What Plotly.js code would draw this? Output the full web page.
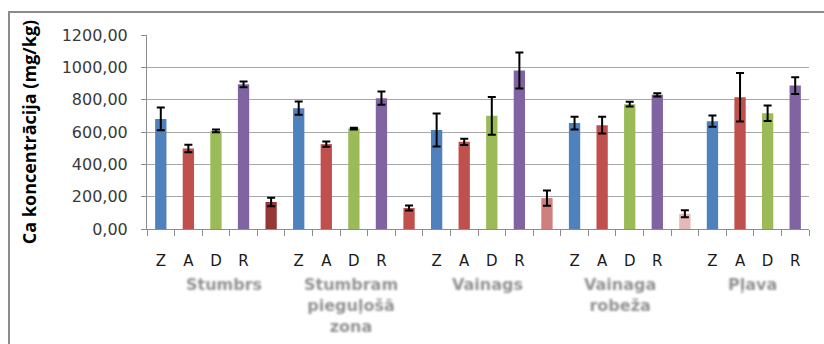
<!DOCTYPE html>
<html>
<head>
<meta charset="utf-8">
<script src="https://cdn.plot.ly/plotly-3.0.1.min.js"></script>
<style>
  html, body { margin: 0; padding: 0; background: #ffffff; overflow: hidden; }
  #frame { position: absolute; left: 8px; top: 11px; width: 900px; height: 400px;
           border: 2px solid #8c8c8c; box-sizing: border-box; }
  #chart { position: absolute; left: 0; top: 0; width: 824px; height: 344px; }
</style>
</head>
<body>
<svg width="0" height="0" style="position:absolute">
  <defs>
    <filter id="soft" x="-10%" y="-30%" width="120%" height="160%">
      <feGaussianBlur stdDeviation="0.8"/>
    </filter>
  </defs>
</svg>
<div id="frame"></div>
<div id="chart"></div>
<script>
// Sampling positions within each site and the sites themselves
const parts = ['Z', 'A', 'D', 'R'];
const sites = ['Stumbrs', 'Stumbram<br>pieguļošā<br>zona', 'Vainags', 'Vainaga<br>robeža', 'Pļava'];

// Ca concentration (mg/kg) per site, order Z, A, D, R
const stumbrs       = [681, 498, 607, 895];
const stumbram      = [747, 525, 621, 809];
const vainags       = [613, 539, 700, 980];
const vainagaRobeza = [655, 642, 772, 830];
const plava         = [667, 815, 716, 887];

// Standard deviations, same order
const stumbrsErr       = [70, 23, 8, 18];
const stumbramErr      = [41, 16, 5, 41];
const vainagsErr       = [102, 20, 117, 111];
const vainagaRobezaErr = [40, 52, 15, 10];
const plavaErr         = [35, 150, 48, 52];

// Extra bars placed between neighbouring sites
const between    = [167, 130, 191, 94];
const betweenErr = [27, 15, 47, 22];

// Colours
const partColors    = ['#4F81BD', '#C0504D', '#9BBB59', '#8064A2'];
const betweenColors = ['#953735', '#C0504D', '#CF7F7D', '#E6B9B8'];

const siteValues = [stumbrs, stumbram, vainags, vainagaRobeza, plava];
const siteErrors = [stumbrsErr, stumbramErr, vainagsErr, vainagaRobezaErr, plavaErr];

// Build the 24-slot category sequence
const keys = [], labels = [], ys = [], errs = [], colors = [];
siteValues.forEach((vals, s) => {
  parts.forEach((p, i) => {
    keys.push('s' + s + p);
    labels.push(p);
    ys.push(vals[i]);
    errs.push(siteErrors[s][i]);
    colors.push(partColors[i]);
  });
  if (s < between.length) {
    keys.push('gap' + s);
    labels.push('');
    ys.push(between[s]);
    errs.push(betweenErr[s]);
    colors.push(betweenColors[s]);
  }
});

const trace = {
  type: 'bar',
  x: keys,
  y: ys,
  marker: { color: colors, line: { width: 0 } },
  error_y: { type: 'data', array: errs, visible: true, color: '#000000', thickness: 2, width: 4 },
  hoverinfo: 'skip'
};

// Site names under each group of bars
const siteX = [0.116, 0.308, 0.514, 0.715, 0.914];
const annotations = sites.map((name, i) => ({
  text: name,
  xref: 'paper', yref: 'paper',
  x: siteX[i], y: 0,
  xanchor: 'center', yanchor: 'top',
  yshift: -44,
  showarrow: false,
  align: 'center',
  font: { family: 'DejaVu Sans', size: 16, color: '#929292', weight: 'bold' }
}));

const layout = {
  width: 824, height: 344,
  margin: { l: 147, r: 15, t: 35, b: 115 },
  paper_bgcolor: 'rgba(0,0,0,0)',
  plot_bgcolor: 'rgba(0,0,0,0)',
  separators: ',.',
  showlegend: false,
  bargap: 0.59,
  xaxis: {
    type: 'category',
    categoryorder: 'array',
    categoryarray: keys,
    tickmode: 'array',
    tickvals: keys,
    ticktext: labels,
    tickson: 'boundaries',
    ticks: 'outside', ticklen: 6, tickcolor: '#8c8c8c', tickwidth: 1,
    showline: true, linecolor: '#8c8c8c', linewidth: 1,
    showgrid: false,
    ticklabelstandoff: 18,
    tickfont: { family: 'DejaVu Sans', size: 15, color: '#1a1a1a' },
    fixedrange: true
  },
  yaxis: {
    range: [0, 1200],
    dtick: 200,
    tickformat: '.2f',
    ticks: 'outside', ticklen: 5, tickcolor: '#8c8c8c',
    showline: true, linecolor: '#8c8c8c', linewidth: 1,
    gridcolor: '#a8a8a8', gridwidth: 1,
    zeroline: false,
    ticklabelstandoff: 10,
    tickfont: { family: 'DejaVu Sans', size: 16, color: '#3a3a3a' },
    title: {
      text: 'Ca koncentrācija (mg/kg)',
      font: { family: 'Open Sans', size: 18, color: '#000000', weight: 'bold' },
      standoff: 20
    },
    fixedrange: true
  },
  annotations: annotations
};

Plotly.newPlot('chart', [trace], layout, { staticPlot: true, displayModeBar: false }).then(() => {
  document.querySelectorAll('#chart .annotation-text').forEach(el => {
    el.setAttribute('filter', 'url(#soft)');
  });
});
</script>
</body>
</html>
